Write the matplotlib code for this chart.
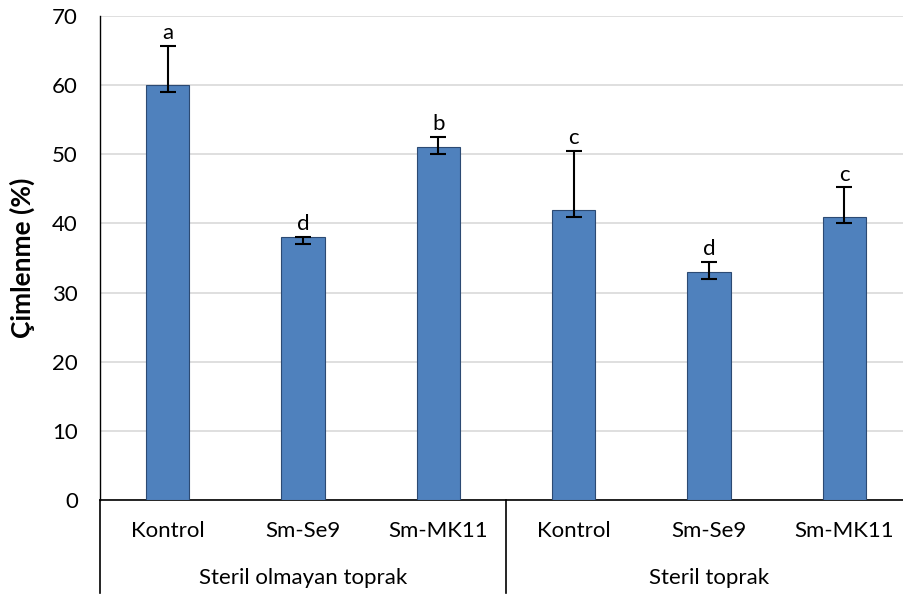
import matplotlib
matplotlib.use("Agg")
import matplotlib.pyplot as plt
from matplotlib.transforms import blended_transform_factory

categories = ["Kontrol", "Sm-Se9", "Sm-MK11", "Kontrol", "Sm-Se9", "Sm-MK11"]
groups = ["Steril olmayan toprak", "Steril toprak"]
values = [60, 38, 51, 42, 33, 41]
err_lower = [1.0, 1.0, 1.0, 1.0, 1.0, 1.0]
err_upper = [5.7, 0.1, 1.5, 8.5, 1.4, 4.2]
letters = ["a", "d", "b", "c", "d", "c"]
yticks = [0, 10, 20, 30, 40, 50, 60, 70]

plt.rcParams['font.family'] = ['Lato', 'DejaVu Sans']
FS = 16

fig = plt.figure(figsize=(9.04, 5.94), dpi=100)
ax = fig.add_axes([100/904, 94/594, 812/904, 484/594])

x = list(range(len(values)))
ax.bar(x, values, width=0.32, color="#4f81bd", edgecolor="#2c4a73", linewidth=0.8, zorder=3)
ax.errorbar(x, values, yerr=[err_lower, err_upper], fmt="none", ecolor="black",
            elinewidth=1.5, capsize=6, capthick=1.5, zorder=4)
for xi, v, eu, lt in zip(x, values, err_upper, letters):
    ax.annotate(lt, (xi, v + eu), xytext=(0, 2), textcoords="offset points",
                ha="center", va="bottom", fontsize=FS)

ax.set_xlim(-0.5, 5.5)
ax.set_ylim(0, 70)
ax.set_yticks(yticks)
ax.set_yticklabels([str(t) for t in yticks], fontsize=FS)
ax.tick_params(axis="y", length=0, pad=16)
ax.set_xticks([])
ax.yaxis.grid(True, color="#d9d9d9", linewidth=1.2, zorder=0)
ax.set_axisbelow(True)
for s in ["top", "right"]:
    ax.spines[s].set_visible(False)
ax.spines["left"].set_color("black")
ax.spines["left"].set_linewidth(1.0)
ax.spines["bottom"].set_color("black")
ax.spines["bottom"].set_linewidth(1.2)
ax.set_ylabel("Çimlenme (%)", fontsize=19, fontweight="bold", labelpad=12)

trans = blended_transform_factory(ax.transData, ax.transAxes)
for xi, c in zip(x, categories):
    ax.text(xi, -31/484, c, transform=trans, ha="center", va="center", fontsize=FS)
for gi, g in enumerate(groups):
    ax.text(gi * 3 + 1, -78/484, g, transform=trans, ha="center", va="center", fontsize=FS)
for xv in [-0.5, 2.5]:
    ax.plot([xv, xv], [0, -93/484], transform=trans, color="black", linewidth=1.2, clip_on=False)

fig.savefig("out.png", dpi=100)
